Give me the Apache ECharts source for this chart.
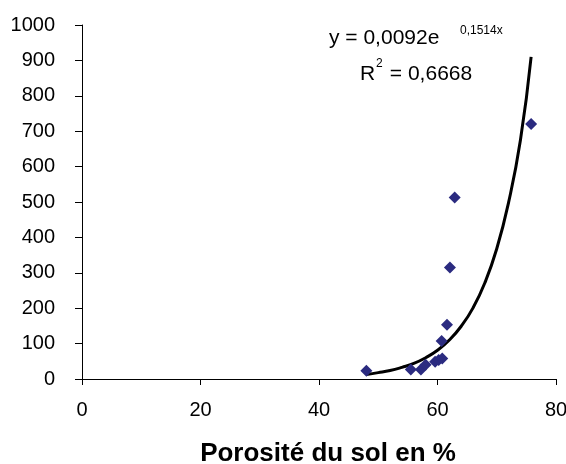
<!DOCTYPE html>
<html>
<head>
<meta charset="utf-8">
<script src="https://cdn.jsdelivr.net/npm/echarts@6/dist/echarts.min.js"></script>
<style>html,body{margin:0;padding:0;background:#fff}#c{width:566px;height:464px}</style>
</head>
<body>
<div id="c"></div>
<script>
// Observed points (porosité %, value)
var pointsX = [48.0, 55.5, 57.2, 58.0, 59.6, 60.2, 60.8, 60.7, 61.6, 62.1, 62.9, 75.8];
var pointsY = [23, 27, 27, 40, 49, 54, 58, 107, 153, 315, 513, 720];
// Trend curve
var trendX = [48, 50, 52, 54, 56, 58, 60, 62, 64, 66, 68, 70, 72, 74, 75.8];
var trendY = [13, 18, 24, 33, 44, 60, 81, 110, 149, 201, 272, 368, 499, 675, 910];
var xTicks = [0, 20, 40, 60, 80];
var yTicks = [0, 100, 200, 300, 400, 500, 600, 700, 800, 900, 1000];
var xTitle = 'Porosité du sol en %';
var eqMain = 'y = 0,0092e';
var eqExp = '0,1514x';
var r2Base = 'R';
var r2Sup = '2';
var r2Rest = ' = 0,6668';

var FONT = '"Liberation Sans", Arial, sans-serif';
var chart = echarts.init(document.getElementById('c'), null, {renderer: 'canvas'});
chart.setOption({
  animation: false,
  backgroundColor: '#fff',
  grid: {left: 82, right: 10, top: 25, bottom: 85, containLabel: false, outerBoundsMode: 'none'},
  xAxis: {
    type: 'value', min: xTicks[0], max: xTicks[xTicks.length - 1], interval: 20,
    name: xTitle, nameLocation: 'middle', nameGap: 62,
    nameTextStyle: {fontFamily: FONT, fontSize: 26, fontWeight: 'bold', color: '#000', padding: [0, 0, 0, 18]},
    axisLine: {show: true, lineStyle: {color: '#000', width: 1}},
    axisTick: {show: true, length: 6, lineStyle: {color: '#000'}},
    axisLabel: {fontFamily: FONT, fontSize: 20, color: '#000', margin: 21,
      formatter: function (v) { return String(v); }},
    splitLine: {show: false}
  },
  yAxis: {
    type: 'value', min: yTicks[0], max: yTicks[yTicks.length - 1], interval: 100,
    axisLine: {show: true, lineStyle: {color: '#000', width: 1}},
    axisTick: {show: true, length: 7, lineStyle: {color: '#000'}},
    axisLabel: {fontFamily: FONT, fontSize: 20, color: '#000', margin: 27,
      formatter: function (v) { return String(v); }},
    splitLine: {show: false}
  },
  series: [
    {
      type: 'line', smooth: true, showSymbol: false, symbol: 'none',
      data: trendX.map(function (x, i) { return [x, trendY[i]]; }),
      lineStyle: {color: '#000', width: 3}, z: 2
    },
    {
      type: 'scatter', symbol: 'diamond', symbolSize: 12,
      data: pointsX.map(function (x, i) { return [x, pointsY[i]]; }),
      itemStyle: {color: '#2b2b80', opacity: 1}, z: 3
    }
  ],
  graphic: [
    {type: 'text', left: 329, top: 28, style: {text: eqMain, font: '21px ' + FONT, fill: '#000'}},
    {type: 'text', left: 460, top: 25, style: {text: eqExp, font: '12px ' + FONT, fill: '#000'}},
    {type: 'text', left: 360, top: 64, style: {text: r2Base, font: '21px ' + FONT, fill: '#000'}},
    {type: 'text', left: 376, top: 58, style: {text: r2Sup, font: '12px ' + FONT, fill: '#000'}},
    {type: 'text', left: 384, top: 64, style: {text: r2Rest, font: '21px ' + FONT, fill: '#000'}}
  ]
});
</script>
</body>
</html>
